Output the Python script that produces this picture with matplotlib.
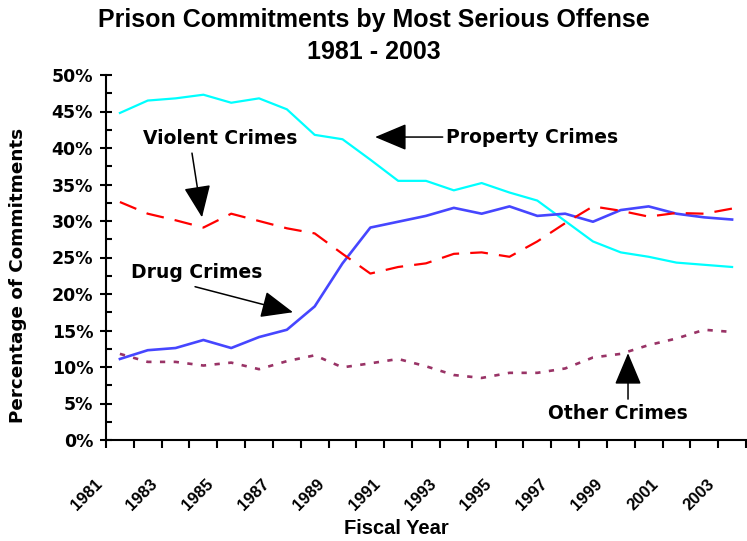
import matplotlib
matplotlib.use("Agg")
import matplotlib.pyplot as plt
import matplotlib.transforms as mtransforms
from matplotlib.patches import ArrowStyle
import numpy as np

# Share of prison commitments (%) by most serious offense, fiscal years 1981-2003
years = list(range(1981, 2004))
property_pct = [44.8, 46.5, 46.8, 47.3, 46.2, 46.8, 45.3, 41.8, 41.2, 38.4, 35.5, 35.5,
                34.2, 35.2, 33.9, 32.8, 30.0, 27.2, 25.7, 25.1, 24.3, 24.0, 23.7]
drug_pct = [11.1, 12.3, 12.6, 13.7, 12.6, 14.1, 15.1, 18.3, 24.2, 29.1, 29.9, 30.7,
            31.8, 31.0, 32.0, 30.7, 31.0, 29.9, 31.5, 32.0, 31.0, 30.5, 30.2]
violent_pct = [32.6, 31.0, 30.1, 29.1, 31.0, 30.0, 29.0, 28.3, 25.5, 22.8, 23.7, 24.2,
               25.5, 25.7, 25.1, 27.2, 29.7, 32.0, 31.4, 30.6, 31.1, 31.0, 31.7]
other_pct = [11.8, 10.7, 10.7, 10.2, 10.6, 9.7, 10.8, 11.6, 9.95, 10.5, 11.1, 10.1,
             8.9, 8.5, 9.2, 9.2, 9.8, 11.3, 11.8, 13.0, 13.9, 15.1, 14.8]
ytick_values = list(range(0, 51, 5))
label_years = years[::2]

W, H = 747, 541
fig = plt.figure(figsize=(W / 100, H / 100), dpi=100)
ax = fig.add_axes([106 / W, 1 - 440 / H, 640 / W, 365 / H])

x = np.arange(len(years))
ax.plot(x, property_pct, color="#00FFFF", lw=1.6)
ax.plot(x, drug_pct, color="#4646FF", lw=1.9)
ax.plot(x, violent_pct, color="#FF0000", lw=1.6, dashes=(8, 5))
ax.plot(x, other_pct, color="#993366", lw=1.9, dashes=(2, 3.2))

ax.set_xlim(-0.5, len(years) - 0.5)
ax.set_ylim(0, 50)

for side in ("top", "right"):
    ax.spines[side].set_visible(False)
for side in ("left", "bottom"):
    ax.spines[side].set_linewidth(1.5)
    ax.spines[side].set_color("black")

# y axis: percent ticks crossing the axis, half-step minor ticks inside
ax.set_yticks(ytick_values)
ax.set_yticklabels([f"{v}%" for v in ytick_values],
                   fontfamily="DejaVu Sans", fontweight="bold", fontsize=12.5)
ax.set_yticks(np.arange(0, 50.1, 2.5), minor=True)
ax.tick_params(axis="y", which="major", direction="inout", length=8.6, width=1.5, pad=5)
ax.tick_params(axis="y", which="minor", direction="in", length=4.3, width=1.5)

# x axis: category boundary ticks, every other year labelled
ax.set_xticks(np.arange(-0.5, len(years)))
ax.set_xticklabels([])
ax.tick_params(axis="x", which="major", direction="out", length=5.8, width=1.5)
label_pos = [years.index(y) for y in label_years]
ax.set_xticks(label_pos, minor=True)
ax.set_xticklabels([str(y) for y in label_years], minor=True, rotation=45,
                   ha="right", va="top", fontfamily="Liberation Sans",
                   fontweight="bold", fontsize=12)
ax.tick_params(axis="x", which="minor", length=0, pad=26.5)
shift = mtransforms.ScaledTranslation(-15 / 100, 0, fig.dpi_scale_trans)
for lab in ax.get_xticklabels(minor=True):
    lab.set_transform(lab.get_transform() + shift)

# titles and axis labels
title_font = dict(fontfamily="Liberation Sans", fontweight="bold", fontsize=18)
fig.text(0.5, 1 - 27 / H, "Prison Commitments by Most Serious Offense",
         ha="center", va="baseline", **title_font)
fig.text(0.5, 1 - 59 / H, "1981 - 2003", ha="center", va="baseline", **title_font)
fig.text(396 / W, 1 - 534 / H, "Fiscal Year", ha="center", va="baseline",
         fontfamily="Liberation Sans", fontweight="bold", fontsize=14.5)
fig.text(18 / W, 1 - 275 / H, "Percentage of Commitments", rotation=90,
         ha="center", va="center", fontfamily="DejaVu Sans", fontweight="bold",
         fontsize=13.2)

# series call-outs
arrow = dict(arrowstyle=ArrowStyle("-|>", head_length=1.0, head_width=0.42),
             mutation_scale=20, lw=1.1, color="black", shrinkA=0, shrinkB=0)
label_font = dict(fontfamily="DejaVu Sans", fontweight="bold", fontsize=13.5,
                  color="black")

ax.text(3.6, 41.3, "Violent Crimes", ha="center", va="center", **label_font)
ax.annotate("", xy=(2.95, 30.5), xytext=(2.59, 39.3), arrowprops=arrow)

ax.text(11.72, 41.4, "Property Crimes", ha="left", va="center", **label_font)
ax.annotate("", xy=(9.17, 41.5), xytext=(11.6, 41.5), arrowprops=arrow)

ax.text(2.77, 23.0, "Drug Crimes", ha="center", va="center", **label_font)
ax.annotate("", xy=(6.22, 17.5), xytext=(2.70, 21.0), arrowprops=arrow)

ax.text(17.9, 3.6, "Other Crimes", ha="center", va="center", **label_font)
ax.annotate("", xy=(18.26, 11.9), xytext=(18.26, 5.6), arrowprops=arrow)

fig.savefig("out.png", dpi=100)
